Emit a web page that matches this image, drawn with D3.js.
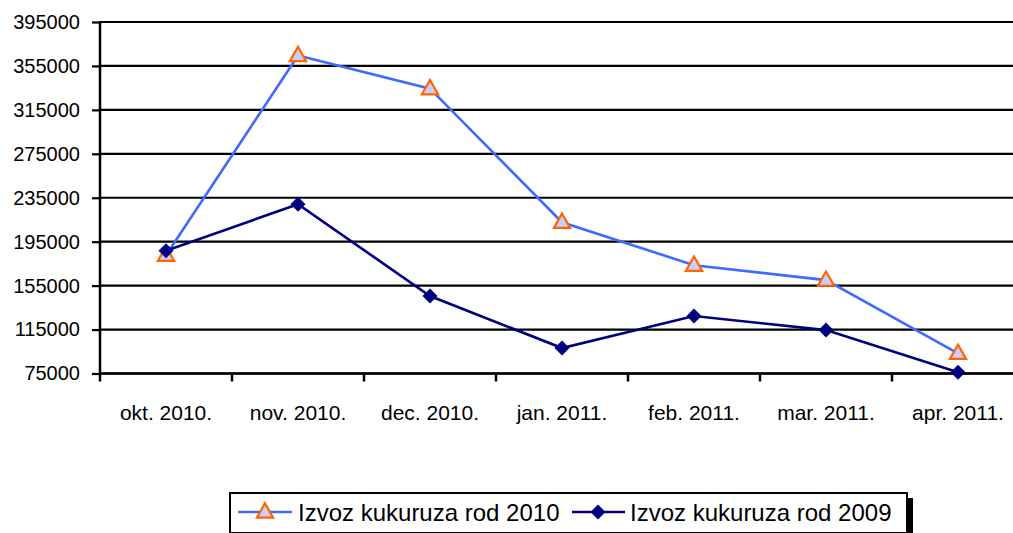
<!DOCTYPE html>
<html><head><meta charset="utf-8">
<script src="https://cdn.jsdelivr.net/npm/d3@7"></script>
<style>body{margin:0;background:#fff}svg{display:block;font-family:"Liberation Sans",Arial,sans-serif}</style>
</head><body><svg id="c" width="1013" height="533"></svg>
<script>
const categories = ["okt. 2010.","nov. 2010.","dec. 2010.","jan. 2011.","feb. 2011.","mar. 2011.","apr. 2011."];
const rod2010 = [182700,364500,334300,212700,173600,160000,93400];
const rod2009 = [186800,229100,145500,98200,127300,114500,76100];
const yTicks = [75000,115000,155000,195000,235000,275000,315000,355000,395000];
const seriesNames = ["Izvoz kukuruza rod 2010","Izvoz kukuruza rod 2009"];

(function(){
const svg = d3.select("#c");
const pLeft = 100, pRight = 1024, pTop = 22, pBottom = 373.5;
const x = d3.scaleBand().domain(categories).range([pLeft, pRight]);
const y = d3.scaleLinear().domain([75000,395000]).range([pBottom, pTop]);

// gridlines
svg.append("g").selectAll("line").data(yTicks).join("line")
  .attr("x1", pLeft).attr("x2", 1013).attr("y1", d=>y(d)).attr("y2", d=>y(d))
  .attr("stroke","#000").attr("stroke-width",2.2);

// y axis
const ya = svg.append("g").attr("transform",`translate(${pLeft},0)`)
  .call(d3.axisLeft(y).tickValues(yTicks).tickSize(8).tickPadding(12).tickFormat(d3.format("d")));
ya.select(".domain").remove();
ya.selectAll(".tick line").attr("stroke","#000").attr("stroke-width",2.2);
ya.selectAll("text").attr("font-size","20px").attr("fill","#000").attr("font-family","Liberation Sans, Arial");
svg.append("line").attr("x1",pLeft).attr("x2",pLeft).attr("y1",pTop-1).attr("y2",pBottom+1)
  .attr("stroke","#000").attr("stroke-width",2.5);

// x axis
const xa = svg.append("g").attr("transform",`translate(0,${pBottom})`)
  .call(d3.axisBottom(x).tickSize(0).tickPadding(0));
xa.select(".domain").remove();
xa.selectAll(".tick text").attr("font-size","21px").attr("fill","#000")
  .attr("font-family","Liberation Sans, Arial").attr("dy",0).attr("y",46.5);
const boundaries = categories.map(c=>x(c));
svg.append("g").selectAll("line").data(boundaries).join("line")
  .attr("x1",d=>d).attr("x2",d=>d).attr("y1",pBottom).attr("y2",pBottom+8)
  .attr("stroke","#000").attr("stroke-width",2.5);
svg.append("line").attr("x1",pLeft-1).attr("x2",1013).attr("y1",pBottom).attr("y2",pBottom)
  .attr("stroke","#000").attr("stroke-width",2.5);

const cx = d => x(d) + x.bandwidth()/2;
const line = d3.line().x((d,i)=>cx(categories[i])).y(d=>y(d));

const triPath = s => `M0,${-s*0.62}L${s*0.58},${s*0.4}L${-s*0.58},${s*0.4}Z`;
const diaPath = s => `M0,${-s}L${s},0L0,${s}L${-s},0Z`;

// 2010 series
svg.append("path").datum(rod2010).attr("d",line).attr("fill","none")
  .attr("stroke","#3D6BFF").attr("stroke-width",2.6);
svg.append("g").selectAll("path").data(rod2010).join("path")
  .attr("transform",(d,i)=>`translate(${cx(categories[i])},${y(d)})`)
  .attr("d",triPath(14)).attr("fill","#CCCCFF").attr("stroke","#FF6600").attr("stroke-width",2.2);

// 2009 series
svg.append("path").datum(rod2009).attr("d",line).attr("fill","none")
  .attr("stroke","#000080").attr("stroke-width",2.6);
svg.append("g").selectAll("path").data(rod2009).join("path")
  .attr("transform",(d,i)=>`translate(${cx(categories[i])},${y(d)})`)
  .attr("d",diaPath(7.5)).attr("fill","#000080");

// legend
const lg = svg.append("g");
lg.append("rect").attr("x",236).attr("y",498).attr("width",677).attr("height",40).attr("fill","#000");
lg.append("rect").attr("x",230).attr("y",493).attr("width",677).attr("height",40)
  .attr("fill","#fff").attr("stroke","#000").attr("stroke-width",2);
const ly = 512;
lg.append("line").attr("x1",238).attr("x2",292).attr("y1",ly).attr("y2",ly).attr("stroke","#3D6BFF").attr("stroke-width",2.6);
lg.append("path").attr("transform",`translate(265,${ly})`).attr("d",triPath(14)).attr("fill","#CCCCFF").attr("stroke","#FF6600").attr("stroke-width",2.2);
lg.append("text").attr("x",298).attr("y",ly).attr("dy","0.36em").attr("font-size","24px").text(seriesNames[0]);
lg.append("line").attr("x1",572).attr("x2",625).attr("y1",ly).attr("y2",ly).attr("stroke","#000080").attr("stroke-width",2.6);
lg.append("path").attr("transform",`translate(598,${ly})`).attr("d",diaPath(7.5)).attr("fill","#000080");
lg.append("text").attr("x",630).attr("y",ly).attr("dy","0.36em").attr("font-size","24px").text(seriesNames[1]);
})();
</script></body></html>
